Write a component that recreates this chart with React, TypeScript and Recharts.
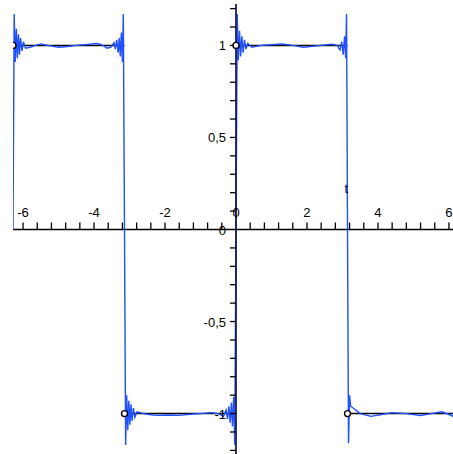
import { ComposedChart, Line, Scatter, XAxis, YAxis, ReferenceLine } from 'recharts'

// Fourier partial sum of the square wave in four half periods
const partialSumA: [number, number][] = [
  [-6.283, 0], [-6.25, 1.17], [-6.22, 0.91], [-6.19, 1.09], [-6.16, 0.93], [-6.13, 1.06],
  [-6.1, 0.95], [-6.07, 1.04], [-6.03, 0.97], [-5.99, 1.02], [-5.93, 0.985], [-5.8, 0.99],
  [-5.65, 1.0], [-5.5, 1.008], [-5.3, 1.0], [-5.0, 0.99], [-4.8, 0.993], [-4.5, 1.0],
  [-4.2, 1.005], [-3.9, 1.01], [-3.75, 1.0], [-3.63, 0.985], [-3.52, 0.99], [-3.44, 1.015],
  [-3.4, 0.98], [-3.36, 1.03], [-3.32, 0.96], [-3.29, 1.04], [-3.26, 0.94], [-3.23, 1.07],
  [-3.2, 0.91], [-3.175, 1.17], [-3.142, 0],
]
const partialSumB: [number, number][] = [
  [-3.11, -1.17], [-3.08, -0.9], [-3.05, -1.09], [-3.02, -0.93], [-2.99, -1.06], [-2.96, -0.95],
  [-2.93, -1.04], [-2.89, -0.97], [-2.85, -1.02], [-2.79, -0.99], [-2.6, -1.0], [-2.4, -1.006],
  [-2.2, -1.01], [-1.9, -1.008], [-1.6, -1.01], [-1.3, -1.004], [-1.0, -1.0], [-0.7, -0.995],
  [-0.5, -1.0], [-0.35, -1.015], [-0.28, -0.98], [-0.24, -1.03], [-0.2, -0.96], [-0.165, -1.05],
  [-0.13, -0.94], [-0.1, -1.07], [-0.065, -0.91], [-0.035, -1.17], [0, 0],
]
const partialSumC: [number, number][] = [
  [0.035, 1.17], [0.065, 0.92], [0.1, 1.08], [0.13, 0.94], [0.165, 1.05], [0.2, 0.96],
  [0.24, 1.03], [0.28, 0.98], [0.33, 1.01], [0.45, 0.99], [0.7, 1.0], [1.0, 1.004],
  [1.3, 1.008], [1.6, 1.0], [1.9, 0.99], [2.2, 0.996], [2.5, 1.002], [2.7, 1.006],
  [2.85, 1.0], [2.93, 0.975], [2.98, 1.02], [3.02, 0.95], [3.06, 1.05], [3.09, 0.93],
  [3.115, 1.17], [3.142, 0],
]
const partialSumD: [number, number][] = [
  [3.17, -1.16], [3.2, -0.9], [3.23, -0.96], [3.3, -0.97], [3.5, -1.0], [3.8, -1.015],
  [4.1, -1.005], [4.4, -0.995], [4.8, -1.0], [5.2, -1.01], [5.5, -1.0], [5.8, -0.99],
  [6.0, -1.005], [6.1, -1.015], [6.15, -0.98], [6.2, -1.04], [6.24, -0.93], [6.26, -1.17],
  [6.283, 0],
]

// square wave, one [start, end, level] per half period
const squareSegments: [number, number, number][] = [
  [-6.283, -3.142, 1],
  [-3.142, 0, -1],
  [0, 3.142, 1],
  [3.142, 6.283, -1],
]

const xMajor = [-6, -4, -2, 0, 2, 4, 6]
const xMajorLabels = ['-6', '-4', '-2', '0', '2', '4', '6']
const yMajor = [1, 0.5, 0, -0.5, -1]
const yMajorLabels = ['1', '0,5', '0', '-0,5', '-1']
const xMinor = Array.from({ length: 31 }, (_, i) => Math.round((-6 + i * 0.4) * 10) / 10).filter((v) => v !== 0)
const yMinor = Array.from({ length: 25 }, (_, i) => Math.round((-1.2 + i * 0.1) * 10) / 10).filter((v) => v !== 0)

const TWO_PI = 6.2832
const Y_LIM = 1.225
const BLUE = '#2050ff'
const FONT = '"Liberation Sans", Arial, sans-serif'

const blueData = [...partialSumA, ...partialSumB, ...partialSumC, ...partialSumD].map(([t, y]) => ({ t, y }))
const squareData = squareSegments.flatMap(([a, b, v]) => [
  { t: a, y: v },
  { t: b, y: v },
  { t: b, y: null },
])
const squareStarts = squareSegments.map(([a, , v]) => ({ t: a, y: v }))
const yAxisLine = [{ t: 0, y: -Y_LIM }, { t: 0, y: Y_LIM }]

const xTickData = xMinor.map((t) => ({ t, y: 0 }))
const yTickData = yMinor.map((y) => ({ t: 0, y }))
const xLabelData = xMajor.map((t, i) => ({ t, y: 0, label: xMajorLabels[i] }))
const yLabelData = yMajor.map((y, i) => ({ t: 0, y, label: yMajorLabels[i] }))

const XTick = (p: any) => <line x1={p.cx} y1={p.cy} x2={p.cx} y2={p.cy - 7} stroke="#000" strokeWidth={1.3} />
const YTick = (p: any) => <line x1={p.cx - 6} y1={p.cy} x2={p.cx} y2={p.cy} stroke="#000" strokeWidth={1.3} />
const XLabel = (p: any) => (
  <text x={p.cx} y={p.cy - 13} textAnchor="middle" fontSize={13} fontFamily={FONT} fill="#000">
    {p.payload.label}
  </text>
)
const YLabel = (p: any) => (
  <text x={p.cx - 10} y={p.cy + 5} textAnchor="end" fontSize={13} fontFamily={FONT} fill="#000">
    {p.payload.label}
  </text>
)
const OpenDot = (p: any) => <circle cx={p.cx} cy={p.cy} r={3} fill="#fff" stroke="#000" strokeWidth={1.4} />
const AxisName = (p: any) => (
  <text x={p.cx} y={p.cy + 4} textAnchor="middle" fontSize={13} fontFamily={FONT} fill="#000">
    t
  </text>
)

export default function App() {
  return (
    <div style={{ position: 'fixed', left: 0, top: 0, width: 453, height: 454, overflow: 'hidden', background: '#fff' }}>
      <ComposedChart width={460} height={456} margin={{ top: 4, right: 1, bottom: 1, left: 13 }}>
        <XAxis type="number" dataKey="t" domain={[-TWO_PI, TWO_PI]} allowDataOverflow hide />
        <YAxis type="number" dataKey="y" domain={[-Y_LIM, Y_LIM]} allowDataOverflow hide />

        {/* x axis through the origin */}
        <ReferenceLine y={0} stroke="#000" strokeWidth={1.7} />
        <Scatter data={xTickData} shape={XTick} isAnimationActive={false} />
        <Scatter data={yTickData} shape={YTick} isAnimationActive={false} />
        <Scatter data={xLabelData} shape={XLabel} isAnimationActive={false} />
        <Scatter data={yLabelData} shape={YLabel} isAnimationActive={false} />
        <Scatter data={[{ t: 3.11, y: 0.22 }]} shape={AxisName} isAnimationActive={false} />

        <Line data={squareData} dataKey="y" type="linear" stroke="#000" strokeWidth={1.5} dot={false} connectNulls={false} isAnimationActive={false} />
        <Line data={blueData} dataKey="y" type="linear" stroke={BLUE} strokeWidth={1.4} dot={false} isAnimationActive={false} />
        {/* y axis drawn over the jump at t = 0 */}
        <Line data={yAxisLine} dataKey="y" type="linear" stroke="#1c1f48" strokeWidth={1.8} dot={false} isAnimationActive={false} />
        <Scatter data={squareStarts} shape={OpenDot} isAnimationActive={false} />
      </ComposedChart>
    </div>
  )
}
